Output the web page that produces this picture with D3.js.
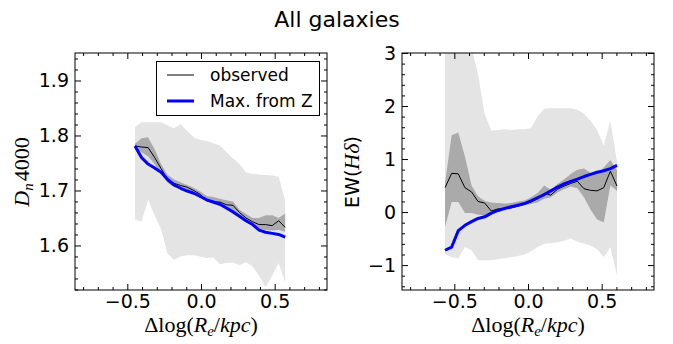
<!DOCTYPE html>
<html><head><meta charset="utf-8">
<script src="https://cdn.jsdelivr.net/npm/d3@7"></script>
<style>
html,body{margin:0;padding:0;background:#fff;}
svg{display:block;}
text{font-family:"DejaVu Sans",sans-serif;fill:#000;}
.math{font-family:"Liberation Serif","DejaVu Serif",serif;}
</style></head>
<body>
<svg id="chart" width="673" height="344"></svg>
<script>
// ---------- data ----------
const titleText = "All galaxies";

// left panel: Dn4000
const xL = [-0.448,-0.404,-0.359,-0.315,-0.271,-0.227,-0.182,-0.138,-0.094,-0.049,-0.005,0.039,0.084,0.128,0.172,0.217,0.261,0.305,0.350,0.394,0.438,0.483,0.527,0.571];
const obsL = [1.781,1.779,1.778,1.760,1.740,1.720,1.713,1.709,1.706,1.700,1.693,1.681,1.679,1.679,1.674,1.673,1.660,1.650,1.643,1.638,1.638,1.636,1.645,1.633];
const modL = [1.781,1.760,1.748,1.741,1.733,1.720,1.710,1.704,1.699,1.695,1.689,1.683,1.679,1.675,1.668,1.661,1.653,1.645,1.638,1.628,1.624,1.622,1.620,1.615];
const darkLoL = [1.775,1.770,1.762,1.748,1.730,1.714,1.706,1.703,1.699,1.694,1.688,1.680,1.675,1.672,1.667,1.661,1.653,1.645,1.637,1.630,1.628,1.627,1.628,1.625];
const darkHiL = [1.785,1.795,1.797,1.775,1.748,1.728,1.720,1.715,1.710,1.705,1.698,1.690,1.688,1.685,1.682,1.680,1.665,1.657,1.650,1.650,1.655,1.655,1.650,1.658];
const lightLoL = [1.647,1.643,1.683,1.655,1.630,1.585,1.574,1.580,1.582,1.582,1.580,1.577,1.578,1.566,1.568,1.569,1.564,1.570,1.562,1.545,1.524,1.545,1.568,1.533];
const lightHiL = [1.815,1.824,1.824,1.824,1.824,1.818,1.813,1.821,1.808,1.797,1.792,1.790,1.786,1.782,1.770,1.758,1.748,1.733,1.730,1.729,1.728,1.727,1.725,1.682];

// right panel: EW(Hdelta)
const xR = [-0.563,-0.518,-0.473,-0.428,-0.383,-0.339,-0.294,-0.249,-0.204,-0.159,-0.114,-0.069,-0.024,0.020,0.065,0.110,0.155,0.200,0.245,0.290,0.335,0.380,0.424,0.469,0.514,0.559,0.604];
const obsR = [0.46,0.73,0.72,0.46,0.38,0.20,0.17,0.02,0.06,0.06,0.08,0.11,0.15,0.19,0.25,0.35,0.32,0.43,0.49,0.54,0.58,0.44,0.41,0.40,0.46,0.77,0.49];
const modR = [-0.72,-0.66,-0.35,-0.25,-0.18,-0.12,-0.09,-0.02,0.03,0.07,0.10,0.13,0.16,0.21,0.27,0.33,0.40,0.47,0.53,0.58,0.62,0.67,0.71,0.75,0.78,0.82,0.88];
const darkLoR = [-0.28,0.19,0.19,-0.02,-0.02,-0.05,-0.06,-0.04,0.00,0.03,0.06,0.10,0.13,0.15,0.18,0.25,0.28,0.37,0.43,0.48,0.45,0.28,0.05,-0.14,-0.19,0.50,0.40];
const darkHiR = [0.55,1.45,1.50,1.05,0.50,0.30,0.21,0.18,0.17,0.16,0.17,0.20,0.22,0.28,0.36,0.50,0.42,0.53,0.62,0.72,0.80,0.82,0.74,0.72,0.84,0.98,0.79];
const lightLoR = [-0.79,-0.85,-0.87,-0.66,-0.72,-0.91,-0.91,-0.91,-0.89,-0.87,-0.85,-0.83,-0.80,-0.74,-0.66,-0.60,-0.59,-0.57,-0.54,-0.50,-0.56,-0.60,-0.63,-0.70,-0.85,-0.66,-1.20];
const lightHiR = [3.3,3.3,3.3,3.3,3.1,2.60,1.85,1.54,1.55,1.56,1.55,1.56,1.56,1.58,1.80,1.95,1.96,1.96,1.96,1.96,1.93,1.86,1.72,1.55,1.25,1.72,0.95];

const xTicks = [-0.5, 0.0, 0.5];
const yTicksL = [1.6, 1.7, 1.8, 1.9];
const yTicksR = [-1, 0, 1, 2, 3];
const legendLabels = ["observed", "Max. from Z"];

// ---------- drawing ----------
const svg = d3.select("#chart");
const fmtMinus = s => s.replace("-", "\u2212");

svg.append("text").attr("x", 337).attr("y", 27).attr("text-anchor", "middle")
  .style("font-size", "22px").text(titleText);

function panel(cfg) {
  const g = svg.append("g");
  const x = d3.scaleLinear().domain([-0.855, 0.855]).range([cfg.left, cfg.left + 252]);
  const y = d3.scaleLinear().domain(cfg.ydom).range([290, 53]);
  const clipId = "clip" + cfg.id;
  svg.append("clipPath").attr("id", clipId).append("rect")
    .attr("x", cfg.left).attr("y", 53).attr("width", 252).attr("height", 237);
  const pg = g.append("g").attr("clip-path", `url(#${clipId})`);
  const idx = d3.range(cfg.xs.length);
  const area = (lo, hi) => d3.area().x(i => x(cfg.xs[i])).y0(i => y(lo[i])).y1(i => y(hi[i]));
  const line = arr => d3.line().x(i => x(cfg.xs[i])).y(i => y(arr[i]));
  pg.append("path").attr("d", area(cfg.lightLo, cfg.lightHi)(idx)).attr("fill", "#e4e4e4");
  pg.append("path").attr("d", area(cfg.darkLo, cfg.darkHi)(idx)).attr("fill", "#aaaaaa");
  pg.append("path").attr("d", line(cfg.obs)(idx)).attr("fill", "none").attr("stroke", "#000").attr("stroke-width", 1);
  pg.append("path").attr("d", line(cfg.mod)(idx)).attr("fill", "none").attr("stroke", "#0000ff").attr("stroke-width", 3).attr("stroke-linejoin", "round");

  const xMinor = d3.range(-0.8, 0.81, 0.1).map(v => +v.toFixed(2)).filter(v => !xTicks.some(t => Math.abs(t - v) < 1e-6));
  const mk = (axisFn, scale, ticks, size, labels, pad) => {
    const a = axisFn(scale).tickValues(ticks).tickSizeInner(-size).tickSizeOuter(0).tickPadding(pad || 5);
    a.tickFormat(labels ? labels : "");
    return a;
  };
  const addAxis = (transform, axis) => {
    const ag = g.append("g").attr("transform", transform).call(axis);
    ag.select(".domain").remove();
    ag.selectAll("line").attr("stroke", "#000").attr("stroke-width", 1);
    ag.selectAll("text").style("font-size", "19px").style("font-family", "'DejaVu Sans',sans-serif").attr("fill", "#000");
    return ag;
  };
  const fx = d => fmtMinus(d3.format(".1f")(d));
  addAxis(`translate(0,290)`, mk(d3.axisBottom, x, xTicks, 6, fx, 4));
  addAxis(`translate(0,290)`, mk(d3.axisBottom, x, xMinor, 3, null));
  addAxis(`translate(0,53)`, mk(d3.axisTop, x, xTicks, 6, null));
  addAxis(`translate(0,53)`, mk(d3.axisTop, x, xMinor, 3, null));
  addAxis(`translate(${cfg.left},0)`, mk(d3.axisLeft, y, cfg.yTicks, 6, cfg.yfmt, 6));
  addAxis(`translate(${cfg.left},0)`, mk(d3.axisLeft, y, cfg.yMinor, 3, null));
  addAxis(`translate(${cfg.left + 252},0)`, mk(d3.axisRight, y, cfg.yTicks, 6, null));
  addAxis(`translate(${cfg.left + 252},0)`, mk(d3.axisRight, y, cfg.yMinor, 3, null));
  g.append("rect").attr("x", cfg.left).attr("y", 53).attr("width", 252).attr("height", 237)
    .attr("fill", "none").attr("stroke", "#000").attr("stroke-width", 1);

  const xl = g.append("text").attr("class", "math").attr("x", cfg.left + 126).attr("y", 332)
    .attr("text-anchor", "middle").style("font-size", "22px");
  xl.append("tspan").text("\u0394log(");
  xl.append("tspan").style("font-style", "italic").text("R");
  xl.append("tspan").style("font-style", "italic").style("font-size", "15px").attr("dy", 4).text("e");
  xl.append("tspan").attr("dy", -4).text("/");
  xl.append("tspan").style("font-style", "italic").text("kpc");
  xl.append("tspan").text(")");
  return {g, x, y};
}

const minorL = d3.range(1.52, 1.951, 0.02).map(v => +v.toFixed(2)).filter(v => !yTicksL.some(t => Math.abs(t - v) < 1e-6));
panel({id: "L", left: 75, ydom: [1.519, 1.95], xs: xL, obs: obsL, mod: modL,
  darkLo: darkLoL, darkHi: darkHiL, lightLo: lightLoL, lightHi: lightHiL,
  yTicks: yTicksL, yMinor: minorL, yfmt: d => d3.format(".1f")(d)});
const minorR = d3.range(-1.4, 3.01, 0.2).map(v => +v.toFixed(2)).filter(v => !yTicksR.some(t => Math.abs(t - v) < 1e-6));
panel({id: "R", left: 402, ydom: [-1.47, 3.0], xs: xR, obs: obsR, mod: modR,
  darkLo: darkLoR, darkHi: darkHiR, lightLo: lightLoR, lightHi: lightHiR,
  yTicks: yTicksR, yMinor: minorR, yfmt: d => fmtMinus(d3.format("d")(d))});

// y labels
const yl1 = svg.append("text").attr("class", "math").attr("transform", "translate(29,172) rotate(-90)")
  .attr("text-anchor", "middle").style("font-size", "22px");
yl1.append("tspan").style("font-style", "italic").text("D");
yl1.append("tspan").style("font-style", "italic").style("font-size", "15px").attr("dy", 4).text("n");
yl1.append("tspan").attr("dy", -4).attr("dx", 2).text("4000");

const yl2 = svg.append("text").attr("transform", "translate(359,172) rotate(-90)")
  .attr("text-anchor", "middle").style("font-size", "19px");
yl2.append("tspan").text("EW(");
yl2.append("tspan").attr("class", "math").style("font-style", "italic").style("font-size", "22px").text("H\u03b4");
yl2.append("tspan").text(")");

// legend
const lg = svg.append("g");
lg.append("rect").attr("x", 156.5).attr("y", 61.5).attr("width", 163).attr("height", 54)
  .attr("fill", "#fff").attr("stroke", "#000").attr("stroke-width", 1);
const legendStyles = [{stroke: "#000", w: 1}, {stroke: "#0000ff", w: 3}];
legendLabels.forEach((lab, i) => {
  const yy = 75 + i * 26;
  lg.append("line").attr("x1", 167).attr("x2", 194).attr("y1", yy).attr("y2", yy)
    .attr("stroke", legendStyles[i].stroke).attr("stroke-width", legendStyles[i].w);
  lg.append("text").attr("x", 210).attr("y", yy + 6).style("font-size", "17px").text(lab);
});
</script>
</body></html>
